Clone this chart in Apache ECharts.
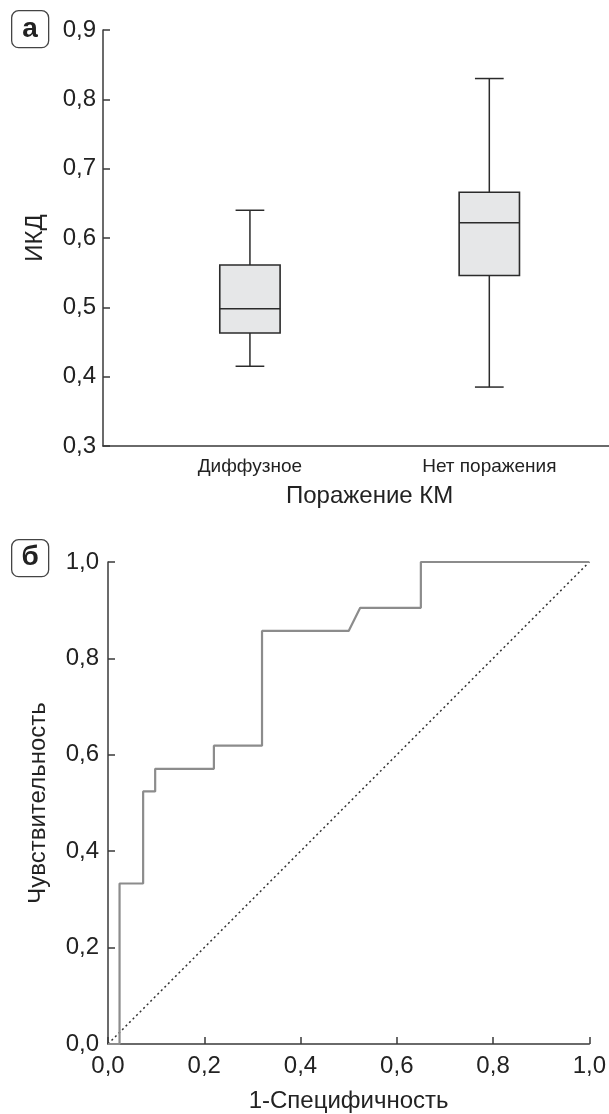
<!DOCTYPE html>
<html>
<head>
<meta charset="utf-8">
<script src="https://cdn.jsdelivr.net/npm/echarts@6/dist/echarts.min.js"></script>
<style>
html,body{margin:0;padding:0;background:#fff;}
#c{width:609px;height:1114px;}
</style>
</head>
<body>
<div id="c"></div>
<script>
// ---- Panel а: box plot data ----
var boxCategories = ['Диффузное', 'Нет поражения'];
// [min, Q1, median, Q3, max]
var boxDiffuse = [0.415, 0.463, 0.498, 0.561, 0.640];
var boxNone = [0.385, 0.546, 0.622, 0.666, 0.830];
var boxYTicks = [0.3, 0.9, 0.1]; // min, max, step

// ---- Panel б: ROC curve data ----
var rocFpr = [0, 0.024, 0.024, 0.073, 0.073, 0.098, 0.098, 0.22, 0.22, 0.32, 0.32, 0.50, 0.524, 0.65, 0.65, 1.0];
var rocTpr = [0, 0, 0.333, 0.333, 0.524, 0.524, 0.571, 0.571, 0.619, 0.619, 0.857, 0.857, 0.905, 0.905, 1.0, 1.0];
var diagX = [0, 1];
var diagY = [0, 1];

var FONT = '"Liberation Sans", Arial, sans-serif';
var AX = '#3a3a3a';
function fmt(v) { return (Math.round(v * 10) / 10).toFixed(1).replace('.', ','); }

var boxData = [
  [0].concat(boxDiffuse),
  [1].concat(boxNone)
];
var rocData = rocFpr.map(function (x, i) { return [x, rocTpr[i]]; });
var diagData = diagX.map(function (x, i) { return [x, diagY[i]]; });

var chart = echarts.init(document.getElementById('c'), null, { renderer: 'canvas' });

function renderBox(params, api) {
  var idx = api.value(0);
  var band = api.size([1, 0])[0];
  var boxW = band * 0.252;
  var capW = band * 0.12;
  var pMin = api.coord([idx, api.value(1)]);
  var pQ1 = api.coord([idx, api.value(2)]);
  var pMed = api.coord([idx, api.value(3)]);
  var pQ3 = api.coord([idx, api.value(4)]);
  var pMax = api.coord([idx, api.value(5)]);
  var cx = pMed[0];
  var ls = { stroke: '#2b2b2b', lineWidth: 1.5, fill: null };
  return {
    type: 'group',
    children: [
      { type: 'line', shape: { x1: cx, y1: pMax[1], x2: cx, y2: pQ3[1] }, style: ls },
      { type: 'line', shape: { x1: cx, y1: pQ1[1], x2: cx, y2: pMin[1] }, style: ls },
      { type: 'line', shape: { x1: cx - capW / 2, y1: pMax[1], x2: cx + capW / 2, y2: pMax[1] }, style: ls },
      { type: 'line', shape: { x1: cx - capW / 2, y1: pMin[1], x2: cx + capW / 2, y2: pMin[1] }, style: ls },
      { type: 'rect', shape: { x: cx - boxW / 2, y: pQ3[1], width: boxW, height: pQ1[1] - pQ3[1] },
        style: { fill: '#e6e7e8', stroke: '#2b2b2b', lineWidth: 1.6 } },
      { type: 'line', shape: { x1: cx - boxW / 2, y1: pMed[1], x2: cx + boxW / 2, y2: pMed[1] }, style: ls }
    ]
  };
}

var option = {
  backgroundColor: '#fff',
  animation: false,
  textStyle: { fontFamily: FONT },
  grid: [
    { left: 103, top: 30, width: 506, height: 416, containLabel: false },
    { left: 130.25, top: 30, width: 485, height: 416, containLabel: false },
    { left: 108, top: 562, width: 488, height: 484, containLabel: false }
  ],
  xAxis: [
    { gridIndex: 0, type: 'value', min: 0, max: 1,
      axisLine: { show: true, onZero: false, lineStyle: { color: AX, width: 1.5 } },
      axisTick: { show: false }, axisLabel: { show: false }, splitLine: { show: false } },
    { gridIndex: 1, type: 'category', data: boxCategories,
      axisLine: { show: false }, axisTick: { show: false }, splitLine: { show: false },
      axisLabel: { color: '#222', fontSize: 19, margin: 11, fontFamily: FONT },
      name: 'Поражение КМ', nameLocation: 'middle', nameGap: 38,
      nameTextStyle: { color: '#222', fontSize: 24, fontFamily: FONT } },
    { gridIndex: 2, type: 'value', min: 0, max: 1, interval: 0.2,
      axisLine: { show: true, onZero: false, lineStyle: { color: AX, width: 1.5 } },
      axisTick: { show: true, inside: true, length: 7, lineStyle: { color: AX, width: 1.5 } },
      axisLabel: { color: '#222', fontSize: 24, margin: 10, formatter: fmt, fontFamily: FONT },
      splitLine: { show: false },
      name: '1-Специфичность', nameLocation: 'middle', nameGap: 45,
      nameTextStyle: { color: '#222', fontSize: 24, fontFamily: FONT } }
  ],
  yAxis: [
    { gridIndex: 0, type: 'value', min: boxYTicks[0], max: boxYTicks[1], interval: boxYTicks[2],
      axisLine: { show: true, onZero: false, lineStyle: { color: AX, width: 1.5 } },
      axisTick: { show: true, inside: true, length: 7, lineStyle: { color: AX, width: 1.5 } },
      axisLabel: { color: '#222', fontSize: 24, margin: 7, formatter: fmt, fontFamily: FONT },
      splitLine: { show: false },
      name: 'ИКД', nameLocation: 'middle', nameGap: 56, nameRotate: 90,
      nameTextStyle: { color: '#222', fontSize: 24, fontFamily: FONT } },
    { gridIndex: 1, type: 'value', min: boxYTicks[0], max: boxYTicks[1], show: false,
      splitLine: { show: false } },
    { gridIndex: 2, type: 'value', min: 0, max: 1, interval: 0.2,
      axisLine: { show: true, onZero: false, lineStyle: { color: AX, width: 1.5 } },
      axisTick: { show: true, inside: true, length: 7, lineStyle: { color: AX, width: 1.5 } },
      axisLabel: { color: '#222', fontSize: 24, margin: 9, formatter: fmt, fontFamily: FONT },
      splitLine: { show: false },
      name: 'Чувствительность', nameLocation: 'middle', nameGap: 58, nameRotate: 90,
      nameTextStyle: { color: '#222', fontSize: 24, fontFamily: FONT } }
  ],
  graphic: [
    { type: 'group', left: 11, top: 10, children: [
      { type: 'rect', shape: { x: 0, y: 0, width: 37, height: 37, r: 7 },
        style: { fill: '#fff', stroke: '#444', lineWidth: 1.3 } },
      { type: 'text', x: 18.5, y: 19, style: { text: 'а', fontSize: 28, fontWeight: 'bold',
        fontFamily: FONT, fill: '#222', textAlign: 'center', textVerticalAlign: 'middle' } }
    ] },
    { type: 'group', left: 11, top: 539, children: [
      { type: 'rect', shape: { x: 0, y: 0, width: 37, height: 37, r: 7 },
        style: { fill: '#fff', stroke: '#444', lineWidth: 1.3 } },
      { type: 'text', x: 18.5, y: 18, style: { text: 'б', fontSize: 28, fontWeight: 'bold',
        fontFamily: FONT, fill: '#222', textAlign: 'center', textVerticalAlign: 'middle' } }
    ] }
  ],
  series: [
    { type: 'custom', xAxisIndex: 1, yAxisIndex: 1, renderItem: renderBox,
      encode: { x: 0, y: [1, 2, 3, 4, 5] }, data: boxData, silent: true },
    { type: 'line', xAxisIndex: 2, yAxisIndex: 2, data: diagData, showSymbol: false, symbol: 'none',
      lineStyle: { color: '#333', width: 1.5, type: [2, 3] }, z: 2, silent: true },
    { type: 'line', xAxisIndex: 2, yAxisIndex: 2, data: rocData, showSymbol: false, symbol: 'none',
      lineStyle: { color: '#8c8c8c', width: 2.2 }, z: 3, silent: true }
  ]
};
chart.setOption(option);
</script>
</body>
</html>
